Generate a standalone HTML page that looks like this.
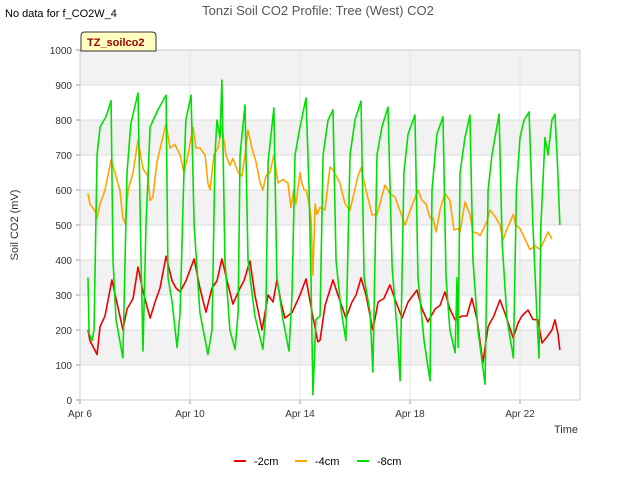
<!DOCTYPE html>
<html><head><meta charset="utf-8"><style>
body{margin:0;background:#fff;font-family:"Liberation Sans",sans-serif}
svg{display:block}
</style></head><body>
<svg width="640" height="480">
<text x="5" y="17" font-size="11">No data for f_CO2W_4</text>
<text x="318" y="15" font-size="13" fill="#555" text-anchor="middle">Tonzi Soil CO2 Profile: Tree (West) CO2</text>
<g id="plot"></g>
<g id="axes"></g>
<g>
<path d="M81,51 L81,36 Q81,32 85,32 L152,32 Q156,32 156,36 L156,51 Z" fill="#ffffc0" stroke="#333" stroke-width="1"/>
<text x="87" y="46" font-size="11" font-weight="bold" fill="#990000">TZ_soilco2</text>
</g>
<text transform="translate(18,225) rotate(-90)" font-size="11" fill="#333" text-anchor="middle">Soil CO2 (mV)</text>
<text x="578" y="433" font-size="11" fill="#333" text-anchor="end">Time</text>
<g>
<g><line x1="234" y1="461" x2="246" y2="461" stroke="#ee0000" stroke-width="2"/><text x="254" y="465" font-size="11">-2cm</text></g>
<g><line x1="295" y1="461" x2="307" y2="461" stroke="#ffa500" stroke-width="2"/><text x="315" y="465" font-size="11">-4cm</text></g>
<g><line x1="357" y1="461" x2="369" y2="461" stroke="#00e000" stroke-width="2"/><text x="377" y="465" font-size="11">-8cm</text></g>
</g>
</svg>
<script>
const yTicks=[0,100,200,300,400,500,600,700,800,900,1000];
const xTickDays=[0,4,8,12,16];
const xTickLabels=["Apr 6","Apr 10","Apr 14","Apr 18","Apr 22"];
const redDays=[.29,.36,.62,.73,.91,1.16,1.31,1.45,1.56,1.71,1.93,2.11,2.29,2.55,2.73,2.91,3.13,3.35,3.49,3.64,3.85,4.15,4.36,4.58,4.8,4.98,5.16,5.35,5.56,5.82,5.96,6.18,6.36,6.62,6.84,7.02,7.16,7.31,7.45,7.71,8,8.22,8.44,8.65,8.73,8.91,9.2,9.38,9.67,9.89,10.04,10.22,10.4,10.65,10.84,11.05,11.27,11.49,11.71,11.93,12.25,12.44,12.65,12.91,13.09,13.27,13.45,13.64,13.89,14.07,14.25,14.44,14.65,14.84,15.05,15.27,15.49,15.75,15.93,16.07,16.29,16.47,16.65,16.8,16.98,17.16,17.27,17.38,17.45];
const redVals=[200,170,130,210,240,343,290,240,200,260,290,380,310,234,280,320,411,340,320,309,340,403,320,251,320,340,403,340,274,320,340,397,300,200,300,280,343,280,234,250,300,346,250,166,171,270,343,300,234,280,300,349,300,200,280,290,329,280,234,280,314,260,223,260,270,309,260,229,240,240,291,230,106,210,240,286,240,177,220,240,257,230,229,163,180,200,229,190,143];
const orangeDays=[.29,.36,.55,.62,.73,.91,1.13,1.27,1.45,1.56,1.64,1.75,1.93,2.11,2.29,2.47,2.55,2.65,2.8,3.13,3.27,3.45,3.64,3.78,3.93,4.11,4.22,4.36,4.55,4.65,4.73,4.87,5.02,5.16,5.31,5.45,5.56,5.75,5.89,6,6.11,6.25,6.4,6.55,6.65,6.76,6.91,7.05,7.2,7.38,7.56,7.67,7.78,7.85,8,8.07,8.15,8.22,8.33,8.4,8.47,8.55,8.62,8.73,8.91,9.09,9.2,9.45,9.64,9.82,10.11,10.22,10.4,10.62,10.8,11.09,11.27,11.45,11.64,11.82,12,12.29,12.44,12.58,12.73,12.84,12.95,13.09,13.27,13.45,13.6,13.75,13.82,14,14.18,14.29,14.44,14.55,14.8,14.91,15.13,15.27,15.38,15.53,15.64,15.75,15.85,16,16.18,16.36,16.55,16.73,17.02,17.16];
const orangeVals=[590,560,540,520,560,600,686,650,600,520,505,600,650,743,660,640,570,580,680,790,720,730,700,650,700,780,720,720,700,620,600,700,720,780,700,670,690,650,640,700,771,720,680,620,600,640,650,700,620,630,620,550,600,560,650,620,600,600,560,520,357,560,530,550,543,666,657,620,560,543,640,663,600,529,530,614,590,580,540,500,540,600,570,560,520,520,480,543,590,570,486,490,480,566,530,480,477,470,510,543,520,500,457,490,509,530,500,490,460,430,440,430,480,460];
const greenDays=[.29,.33,.44,.51,.62,.73,.95,1.13,1.2,1.31,1.56,1.71,1.85,2.11,2.22,2.29,2.4,2.55,2.84,3.13,3.2,3.35,3.53,3.64,3.78,3.85,4.04,4.15,4.36,4.65,4.8,4.91,4.98,5.09,5.16,5.27,5.45,5.64,5.75,5.82,6,6.11,6.36,6.65,6.76,6.84,7.05,7.16,7.38,7.6,7.71,7.82,8,8.22,8.33,8.4,8.47,8.58,8.73,8.84,9.02,9.2,9.31,9.49,9.67,9.82,10,10.22,10.33,10.55,10.65,10.8,10.98,11.2,11.35,11.53,11.64,11.78,11.93,12.18,12.29,12.51,12.73,12.8,12.98,13.2,13.31,13.45,13.64,13.71,13.75,13.82,14,14.18,14.29,14.47,14.73,14.84,14.98,15.24,15.35,15.53,15.76,15.87,16,16.15,16.33,16.47,16.62,16.69,16.76,16.91,17.02,17.16,17.27,17.35,17.45];
const greenVals=[350,190,170,200,700,780,810,855,400,230,120,650,790,877,400,140,500,780,830,871,350,280,150,250,650,800,871,500,250,130,200,700,800,750,914,400,200,145,250,700,843,400,240,145,250,680,834,350,230,140,300,700,780,863,600,350,15,230,240,700,800,829,400,260,170,700,800,854,350,250,80,700,780,837,380,200,55,650,760,814,350,170,55,600,760,809,350,200,135,350,150,650,750,814,400,200,45,600,700,817,450,230,120,600,750,800,823,500,230,120,500,750,700,800,817,700,500];
const X0=80,X1=580,Y0=400,Y1=50;
const xs=d=>X0+d*27.5, ys=v=>Y0-(v/1000)*(Y0-Y1);
const NS="http://www.w3.org/2000/svg";
const plot=document.getElementById('plot'), axes=document.getElementById('axes');
function mk(tag,attrs,parent){const e=document.createElementNS(NS,tag);for(const k in attrs)e.setAttribute(k,attrs[k]);parent.appendChild(e);return e;}
for(let i=0;i<yTicks.length-1;i++){
  if(i%2===1){const r=mk('rect',{x:X0,y:ys(yTicks[i+1]),width:X1-X0,height:ys(yTicks[i])-ys(yTicks[i+1]),fill:'#f2f2f2'},plot);
  
  }
}
yTicks.forEach(v=>{
  const l=mk('line',{x1:X0,x2:X1,y1:ys(v),y2:ys(v),stroke:'#dcdcdc','stroke-width':1},plot);
  
  
  const t=mk('text',{x:X0-8,y:ys(v)+4,'font-size':10,'text-anchor':'end',fill:'#333'},axes);
  t.textContent=v;
  
  
  mk('line',{x1:X0-4,x2:X0,y1:ys(v),y2:ys(v),stroke:'#999'},axes);
});
xTickDays.forEach((d,i)=>{
  const l=mk('line',{x1:xs(d),x2:xs(d),y1:Y1,y2:Y0,stroke:'#e6e6e6'},plot);
  
  
  mk('line',{x1:xs(d),x2:xs(d),y1:Y0,y2:Y0+4,stroke:'#999'},axes);
  const t=mk('text',{x:xs(d),y:Y0+17,'font-size':10,'text-anchor':'middle',fill:'#333'},axes);
  t.textContent=xTickLabels[i];
  
  
});
mk('rect',{x:X0,y:Y1,width:X1-X0,height:Y0-Y1,fill:'none',stroke:'#ccc'},axes);
function series(days,vals,color,name){
  const p=mk('polyline',{points:days.map((d,i)=>xs(d)+','+ys(vals[i])).join(' '),fill:'none',stroke:color,'stroke-width':1.6,'stroke-linejoin':'round'},plot);
  
  
}
series(redDays,redVals,'#ee0000','series-2cm');
series(orangeDays,orangeVals,'#ffa500','series-4cm');
series(greenDays,greenVals,'#00e000','series-8cm');
</script>
</body></html>
